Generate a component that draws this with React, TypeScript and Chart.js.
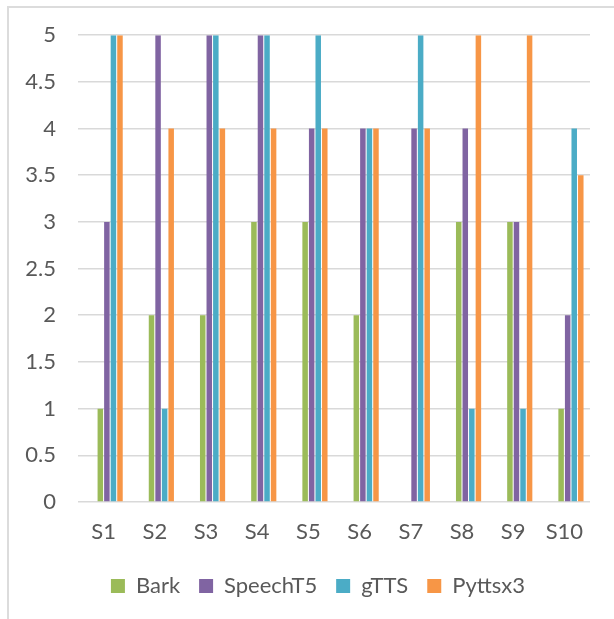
import React, { useEffect, useRef } from "react";
import { Chart, registerables } from "chart.js";
Chart.register(...registerables);

const categories = ["S1", "S2", "S3", "S4", "S5", "S6", "S7", "S8", "S9", "S10"];
const bark = [1, 2, 2, 3, 3, 2, 0, 3, 3, 1];
const speechT5 = [3, 5, 5, 5, 4, 4, 4, 4, 3, 2];
const gtts = [5, 1, 5, 5, 5, 4, 5, 1, 1, 4];
const pyttsx3 = [5, 4, 4, 4, 4, 4, 4, 5, 5, 3.5];
const emptySlot = categories.map(() => null);

const yMin = 0;
const yMax = 5;
const yStep = 0.5;

const FONT = "Lato, 'Noto Sans', sans-serif";
const TEXT = "#595959";

export default function App() {
  const ref = useRef<HTMLCanvasElement | null>(null);
  useEffect(() => {
    if (!ref.current) return;
    const chart = new Chart(ref.current, {
      type: "bar",
      data: {
        labels: categories,
        datasets: [
          { label: "", data: emptySlot as any, backgroundColor: "transparent" },
          { label: "", data: emptySlot as any, backgroundColor: "transparent" },
          { label: "Bark", data: bark, backgroundColor: "#9BBB59" },
          { label: "SpeechT5", data: speechT5, backgroundColor: "#8064A2" },
          { label: "gTTS", data: gtts, backgroundColor: "#4BACC6" },
          { label: "Pyttsx3", data: pyttsx3, backgroundColor: "#F79646" },
        ],
      },
      options: {
        responsive: false,
        animation: false,
        devicePixelRatio: 1,
        datasets: { bar: { categoryPercentage: 0.768, barPercentage: 0.84, borderWidth: 0 } },
        layout: { padding: { left: 22, right: 0, top: 35, bottom: 12 } },
        scales: {
          x: {
            grid: { display: false },
            border: { display: false },
            ticks: { color: TEXT, font: { family: FONT, size: 22 }, padding: 9, maxRotation: 0 },
            afterFit: (s: any) => { s.height = 54; },
          },
          y: {
            min: yMin,
            max: yMax,
            ticks: {
              stepSize: yStep,
              color: TEXT,
              font: { family: FONT, size: 22 },
              padding: 22,
              callback: (v: any) => `${Number(v)}`,
            },
            grid: { color: "#d9d9d9", lineWidth: 1.6, drawTicks: false },
            border: { display: false },
            afterFit: (s: any) => { s.width = 56; },
          },
          yRight: {
            position: "right",
            display: true,
            grid: { display: false, drawTicks: false },
            border: { display: false },
            ticks: { display: false },
            afterFit: (s: any) => { s.width = 24; },
          },
        },
        plugins: {
          tooltip: { enabled: false },
          legend: {
            position: "bottom",
            labels: {
              color: TEXT,
              font: { family: FONT, size: 22 },
              boxWidth: 14,
              boxHeight: 14,
              padding: 19,
              filter: (item: any) => item.text !== "",
            },
          },
        },
      },
    });
    return () => chart.destroy();
  }, []);

  return (
    <div style={{ position: "fixed", left: 0, top: 0, width: 614, height: 619, background: "#fff", overflow: "hidden" }}>
      <div
        style={{
          position: "absolute",
          left: 7,
          top: 6,
          width: 607,
          height: 613,
          borderLeft: "2px solid #dcdcdc",
          borderTop: "2px solid #dcdcdc",
          boxSizing: "border-box",
        }}
      />
      <canvas ref={ref} width={614} height={619} style={{ position: "absolute", left: 0, top: 0 }} />
    </div>
  );
}
